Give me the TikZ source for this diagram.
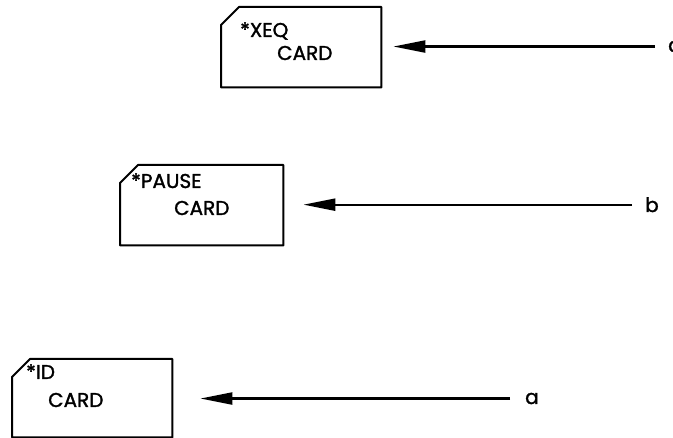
\documentclass[tikz,border=0pt]{standalone}
\usepackage{fontspec}
\setmainfont{Poppins}
\newfontfamily\cardfont{Poppins}[UprightFeatures={FakeBold=1.5}]
\usetikzlibrary{arrows.meta}
\tikzset{
  cardtxt/.style={anchor=base west,inner sep=0pt,font=\cardfont\fontsize{20}{22}\selectfont},
  lbl/.style={anchor=base west,inner sep=0pt,font=\cardfont\fontsize{20}{22}\selectfont},
  cardline/.style={line width=2pt,line join=round},
  arr/.style={line width=2.2pt,-{Triangle[length=32pt,width=12pt]}},
  cardbox/.style={draw=none,inner sep=0pt,minimum width=#1,minimum height=80pt,anchor=north west},
}
\newcommand{\cardshape}[1]{%
  \draw[cardline] ([yshift=-18pt]#1.north west) -- ([xshift=18pt]#1.north west)
    -- (#1.north east) -- (#1.south east) -- (#1.south west) -- cycle;}
\begin{document}
\begin{tikzpicture}[x=1pt,y=-1pt]
\useasboundingbox (0,0) rectangle (673,438);
% cards
\node[cardbox=160pt] (xeq) at (221,7) {};
\node[cardbox=163pt] (pause) at (120,165) {};
\node[cardbox=160pt,minimum height=78pt] (id) at (12,359) {};
\cardshape{xeq}
\cardshape{pause}
\cardshape{id}
\node[cardtxt] (xeq1) at (240,37) {*XEQ};
\node[cardtxt] (xeq2) at (277,60) {CARD};
\node[cardtxt] (pause1) at (131,188) {*PAUSE};
\node[cardtxt] (pause2) at (174,215) {CARD};
\node[cardtxt] (id1) at (26,379) {*ID};
\node[cardtxt] (id2) at (48,407) {CARD};
% labels
\node[lbl] (c) at (668,52) {c};
\node[lbl] (b) at (645,212) {b};
\node[lbl] (a) at (525,404) {a};
% arrows
\draw[arr,shorten <=13pt,shorten >=12pt] (c.west) -- (c.west -| xeq.east);
\draw[arr,shorten <=13pt,shorten >=20pt] (b.west) -- (b.west -| pause.east);
\draw[arr,shorten <=15pt,shorten >=28pt] (a.west) -- (a.west -| id.east);
\end{tikzpicture}
\end{document}
